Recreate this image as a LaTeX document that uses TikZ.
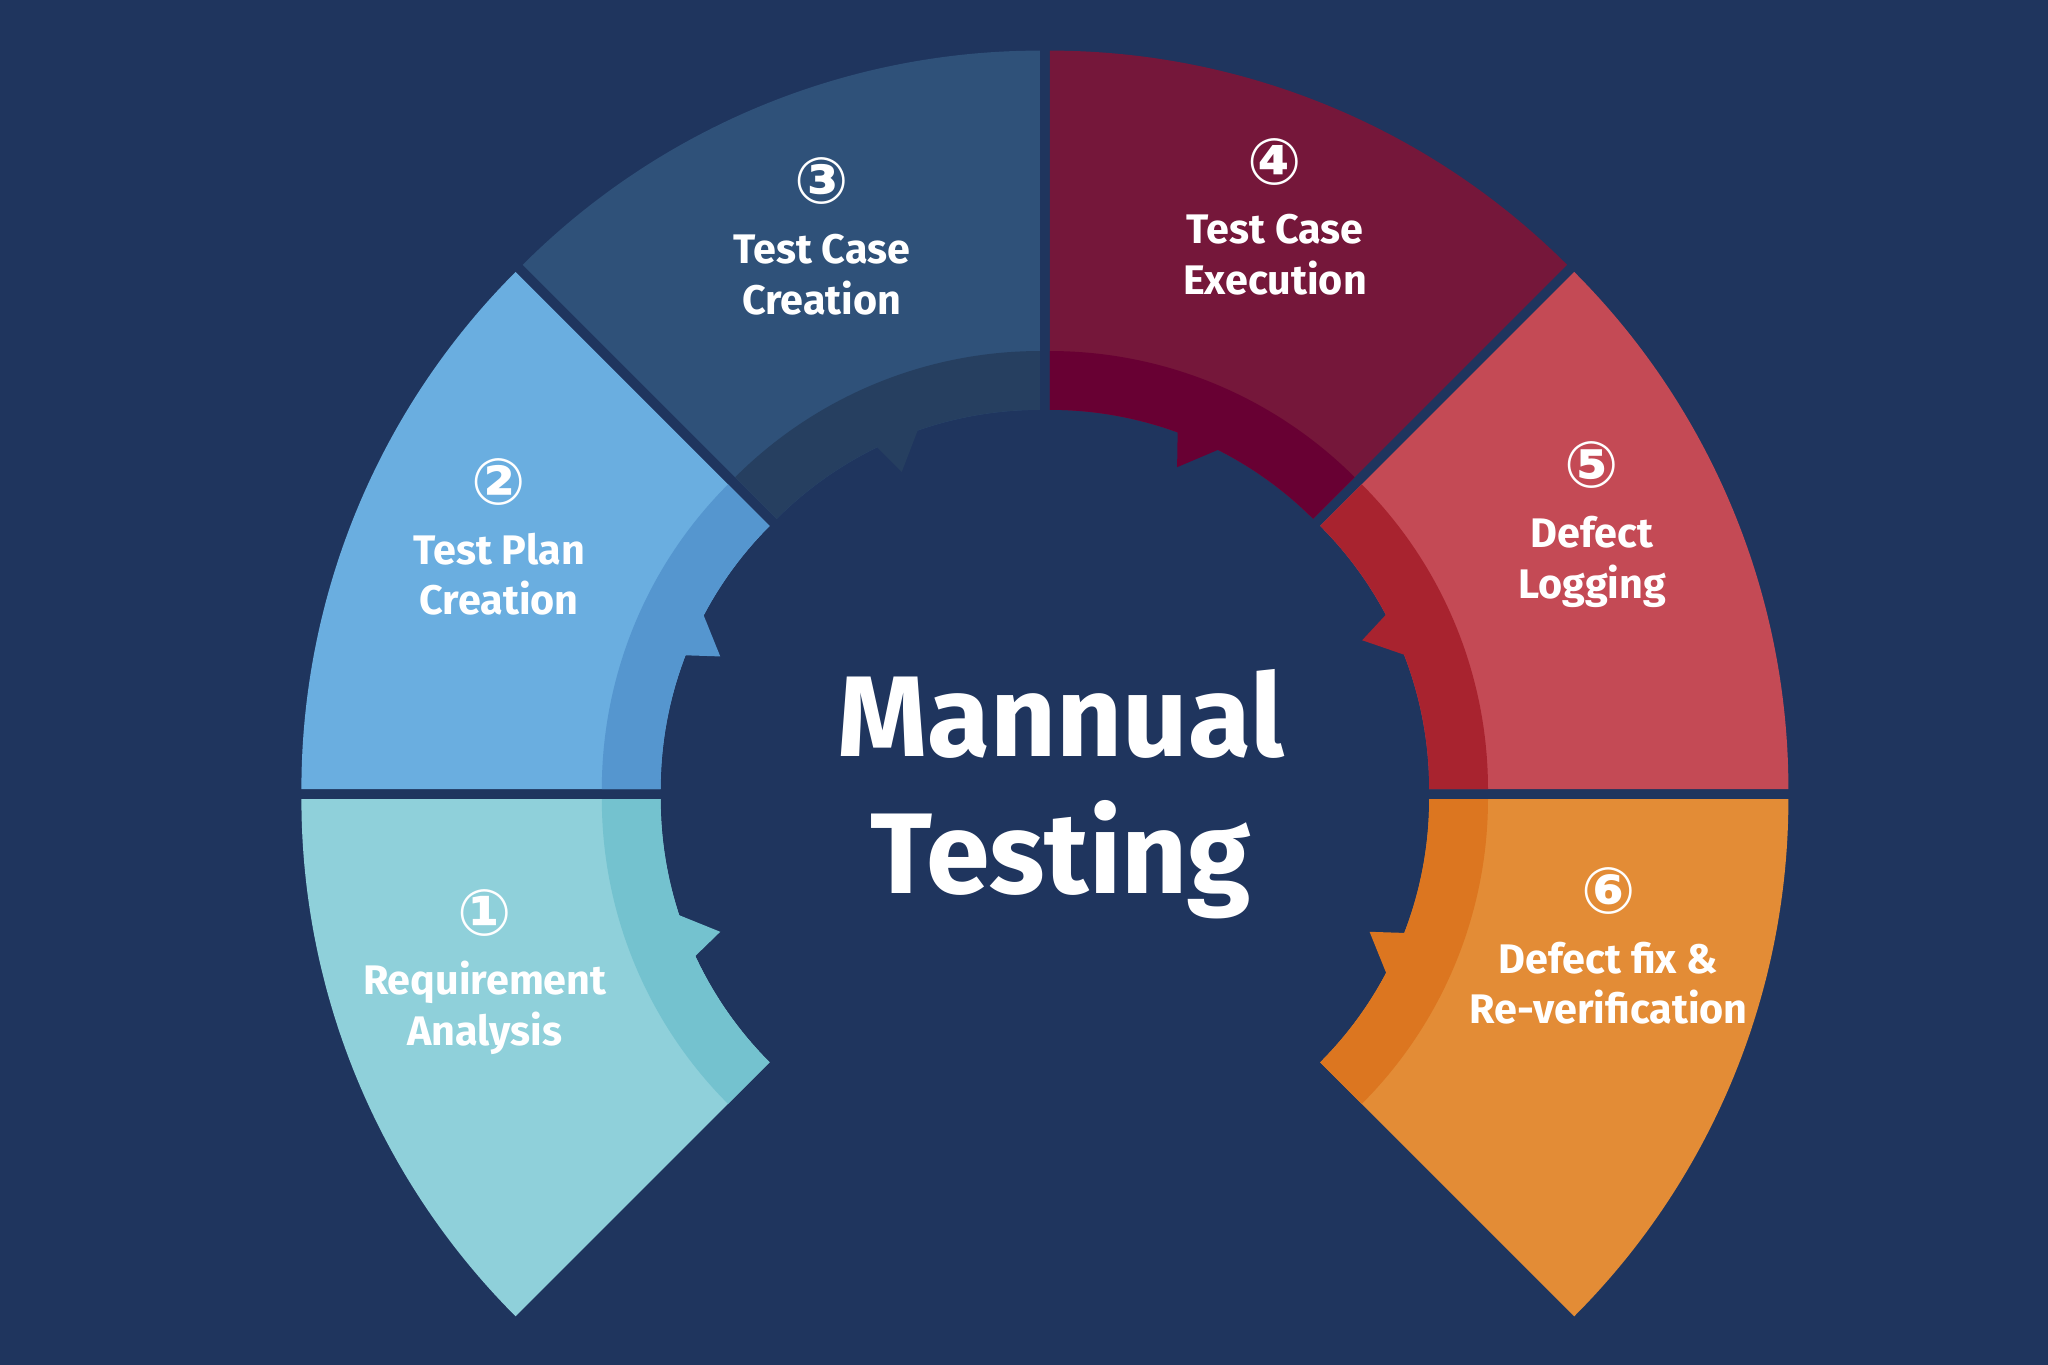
\documentclass[tikz,border=0pt]{standalone}
\usepackage{fontspec}
\setmainfont{Fira Sans}
\newfontfamily\numfont{DejaVu Sans}
\usetikzlibrary{calc}
\definecolor{bgblue}{HTML}{1F355E}
\definecolor{segA}{HTML}{8FD0DA}\definecolor{bandA}{HTML}{74C2CF}
\definecolor{segB}{HTML}{6AAEE0}\definecolor{bandB}{HTML}{5596CF}
\definecolor{segC}{HTML}{2F5179}\definecolor{bandC}{HTML}{263F60}
\definecolor{segD}{HTML}{75173A}\definecolor{bandD}{HTML}{680033}
\definecolor{segE}{HTML}{C44A55}\definecolor{bandE}{HTML}{A8232F}
\definecolor{segF}{HTML}{E38C36}\definecolor{bandF}{HTML}{DC7620}
\tikzset{
  steplabel/.style={text=white, align=center, font=\bfseries\fontsize{9}{11}\selectfont},
  titlelabel/.style={text=white, align=center, font=\bfseries\fontsize{25}{30}\selectfont}
}
\begin{document}
\begin{tikzpicture}
    % background
    \fill[bgblue] (0,0) rectangle (15.68,10.45);
    \useasboundingbox (0,0) rectangle (15.68,10.45);
    \coordinate (ctr) at (8.0,4.37);
    % ring segments
    \foreach \s/\seg/\band/\tooth/\ang/\rad/\num/\txt/\nm in {
        180/segA/bandA/200/197.5/4.4/①/{Requirement\\Analysis}/req,
        135/segB/bandB/154/154.7/4.52/②/{Test Plan\\Creation}/plan,
        90/segC/bandC/111/111.8/4.5/③/{Test Case\\Creation}/cases,
        45/segD/bandD/65/68.3/4.66/④/{Test Case\\Execution}/exec,
        0/segE/bandE/23/26.3/4.57/⑤/{Defect\\Logging}/log,
        -45/segF/bandF/-26/-14.9/4.37/⑥/{Defect fix \&\\Re-verification}/fix} {
        \begin{scope}[shift={($(ctr)+({\s+22.5}:0.1)$)}]
            \pgfmathsetmacro{\e}{\s+45}
            \fill[\seg] (\s:2.85) -- (\s:5.6) arc[start angle=\s, end angle=\e, radius=5.6]
                -- (\e:2.85) arc[start angle=\e, end angle=\s, radius=2.85] -- cycle;
            \fill[\band] (\s:2.85) -- (\s:3.3) arc[start angle=\s, end angle=\e, radius=3.3]
                -- (\e:2.85) arc[start angle=\e, end angle=\s, radius=2.85] -- cycle;
            % notch
            \fill[\band] ({\tooth-2}:2.86) -- ({\tooth+3}:2.6) -- ({\tooth+5}:2.86) -- cycle;
            \node[steplabel] (\nm) at (\ang:\rad) {{\numfont\fontsize{14}{16}\selectfont\num}\\[2pt]\txt};
        \end{scope}
    }
    \node[titlelabel] (title) at ($(ctr)+(0.12,0.0)$) {Mannual\\Testing};
\end{tikzpicture}
\end{document}
